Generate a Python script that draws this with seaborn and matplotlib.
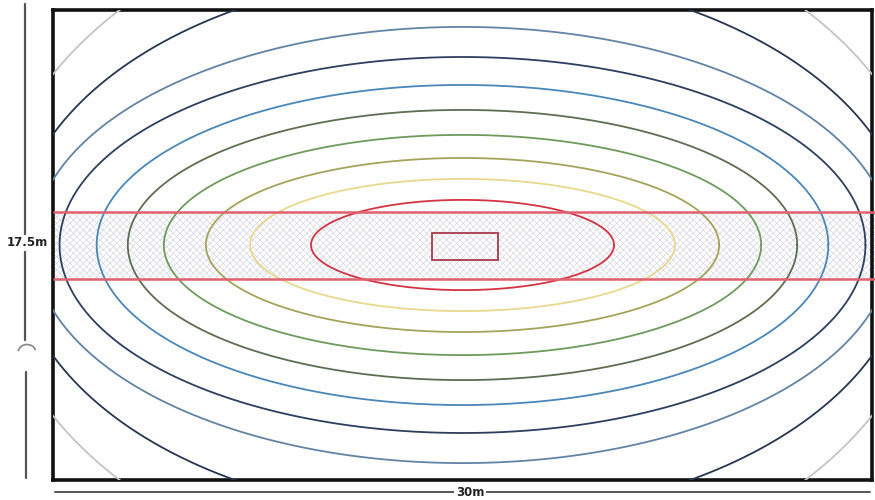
import numpy as np
import pandas as pd
import seaborn as sns
import matplotlib
matplotlib.use("Agg")
import matplotlib.pyplot as plt
from matplotlib.patches import Rectangle, Arc
from matplotlib.lines import Line2D

# ---------------- data ----------------
room_width_m = 30.0
room_depth_m = 17.5
width_label = "30m"
depth_label = "17.5m"
centre = (15.0, 8.75)

# iso-lines, from the innermost outward: half-width / half-height in metres
iso_half_width = [5.55, 7.78, 9.40, 10.94, 12.26, 13.40, 14.76, 15.72, 16.41, 17.33]
iso_half_height = [1.68, 2.46, 3.24, 4.10, 5.03, 5.96, 7.00, 8.12, 10.16, 12.70]
iso_colors = ["#d23444", "#e8d88e", "#a4a35c", "#6e9a5e", "#5e6d52",
              "#4a86b8", "#2d3e5e", "#6283a4", "#27354f", "#c4c4c4"]

# central luminaire rectangle (x0, y0, width, height) in metres
core_rect = [13.9, 8.2, 2.4, 1.0]
core_color = "#a63a4a"

# hatched band (y from / to) in metres
band_y = [7.48, 9.98]
band_edge_color = "#e0606e"

# ---------------- figure ----------------
sns.set_style("white")
fig = plt.figure(figsize=(8.75, 5.0), dpi=100)
ax = fig.add_axes([53 / 875, 20 / 500, (872 - 53) / 875, 470 / 500])

# hatched band
plt.rcParams["hatch.linewidth"] = 0.5
ax.fill_between([0, room_width_m * 1.01], band_y[0], band_y[1], facecolor="white",
                edgecolor="#d6d6e2", hatch="xxxxx", linewidth=0, zorder=1,
                clip_on=False)
for yb in band_y:
    ax.plot([0, room_width_m * 1.005], [yb, yb], color=band_edge_color, lw=1.8,
            zorder=4, clip_on=False, solid_capstyle="butt")

# iso-lines
t = np.linspace(0, 2 * np.pi, 241)
for a, b, c in zip(iso_half_width, iso_half_height, iso_colors):
    df = pd.DataFrame({"x": centre[0] + a * np.cos(t),
                       "y": centre[1] + b * np.sin(t),
                       "o": np.arange(t.size)})
    sns.lineplot(data=df, x="x", y="y", sort=False, estimator=None,
                 color=c, lw=1.3, ax=ax, zorder=3)

# core rectangle
ax.add_patch(Rectangle((core_rect[0], core_rect[1]), core_rect[2], core_rect[3],
                       fill=False, edgecolor=core_color, lw=1.3, zorder=5))

ax.set_xlim(0, room_width_m)
ax.set_ylim(0, room_depth_m)
ax.set_xticks([])
ax.set_yticks([])
ax.set_xlabel("")
ax.set_ylabel("")
for s in ax.spines.values():
    s.set_visible(True)
    s.set_color("#111111")
    s.set_linewidth(2.6)

# dimension lines (figure coordinates, pixels -> fraction)
def fx(px):
    return px / 875

def fy(py):
    return 1 - py / 500

fig.add_artist(Line2D([fx(25), fx(25)], [fy(4), fy(340)], color="#555555", lw=1.6))
fig.add_artist(Line2D([fx(26), fx(26)], [fy(372), fy(478)], color="#555555", lw=1.6))
fig.add_artist(Arc((fx(27), fy(352)), 0.02, 0.03, theta1=20, theta2=170,
                   color="#888888", lw=1.2, transform=fig.transFigure))
fig.add_artist(Line2D([fx(55), fx(870)], [fy(492), fy(492)], color="#555555", lw=1.4))
fig.text(fx(27), fy(243), depth_label, ha="center", va="center", fontsize=8.5,
         fontweight="bold", color="#222222",
         bbox=dict(facecolor="white", edgecolor="none", pad=1))
fig.text(fx(470), fy(492), width_label, ha="center", va="center", fontsize=8.5,
         fontweight="bold", color="#222222",
         bbox=dict(facecolor="white", edgecolor="none", pad=1))

fig.savefig("out.png", dpi=100)
